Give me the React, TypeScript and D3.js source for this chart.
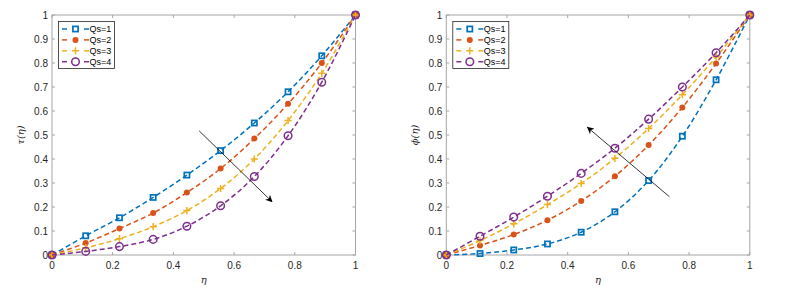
import * as d3 from "d3";

const eta = [0, 1 / 9, 2 / 9, 3 / 9, 4 / 9, 5 / 9, 6 / 9, 7 / 9, 8 / 9, 1];
const seriesNames = ["Qs=1", "Qs=2", "Qs=3", "Qs=4"];
const colors = ["#0072BD", "#D95319", "#EDB120", "#7E2F8E"];
const markers = ["square", "dot", "plus", "circle"];

const tauValues = [
  [0, 0.08, 0.155, 0.24, 0.333, 0.435, 0.55, 0.68, 0.83, 1],
  [0, 0.05, 0.11, 0.175, 0.26, 0.36, 0.485, 0.63, 0.8, 1],
  [0, 0.03, 0.068, 0.118, 0.185, 0.277, 0.4, 0.56, 0.757, 1],
  [0, 0.015, 0.035, 0.065, 0.12, 0.205, 0.327, 0.497, 0.72, 1],
];
const phiValues = [
  [0, 0.006, 0.021, 0.046, 0.095, 0.18, 0.31, 0.495, 0.73, 1],
  [0, 0.04, 0.085, 0.145, 0.225, 0.328, 0.458, 0.615, 0.798, 1],
  [0, 0.06, 0.13, 0.21, 0.298, 0.403, 0.527, 0.668, 0.825, 1],
  [0, 0.078, 0.158, 0.245, 0.34, 0.445, 0.566, 0.7, 0.843, 1],
];
// arrow annotations [x0, y0, x1, y1], head at the second point
const tauArrow = [0.485, 0.517, 0.725, 0.222];
const phiArrow = [0.735, 0.243, 0.465, 0.532];

const ticks = d3.range(0, 1.0001, 0.1);
const xTicks = [0, 0.2, 0.4, 0.6, 0.8, 1];
const fmt = (v: number) => String(+v.toFixed(1));

const Marker = ({ kind, x, y, color }: any) => {
  if (kind === "square")
    return <rect x={x - 2.6} y={y - 2.6} width={5.2} height={5.2} fill="none" stroke={color} strokeWidth={1.7} />;
  if (kind === "dot") return <circle cx={x} cy={y} r={3} fill={color} />;
  if (kind === "plus")
    return (
      <path d={`M${x - 3.6},${y}H${x + 3.6}M${x},${y - 3.6}V${y + 3.6}`} stroke={color} strokeWidth={1.5} />
    );
  return <circle cx={x} cy={y} r={3.8} fill="none" stroke={color} strokeWidth={1.5} />;
};

const Panel = ({ left, data, label, arrow, id }: any) => {
  const x = d3.scaleLinear().domain([0, 1]).range([left, left + 303.5]);
  const y = d3.scaleLinear().domain([0, 1]).range([255, 15]);
  const line = d3
    .line<number>()
    .x((_, i) => x(eta[i]))
    .y((d) => y(d))
    .curve(d3.curveCatmullRom);
  const lg = { x: left + 6.5, y: 21.5 };
  return (
    <g>
      <defs>
        <marker id={id} viewBox="0 0 10 10" refX={9} refY={5} markerWidth={9} markerHeight={9} orient="auto">
          <path d="M0,0L10,5L0,10L3,5Z" fill="#000" />
        </marker>
      </defs>
      <rect x={x(0)} y={y(1)} width={x(1) - x(0)} height={y(0) - y(1)} fill="#fff" stroke="#a6a6a6" strokeWidth={1} />
      {ticks.map((t) => (
        <g key={"y" + t}>
          <line x1={x(0)} x2={x(0) + 3} y1={y(t)} y2={y(t)} stroke="#a6a6a6" />
          <line x1={x(1)} x2={x(1) - 3} y1={y(t)} y2={y(t)} stroke="#a6a6a6" />
          <text x={x(0) - 4} y={y(t)} dy="0.35em" textAnchor="end" fontSize={10} fill="#262626">
            {fmt(t)}
          </text>
        </g>
      ))}
      {xTicks.map((t) => (
        <g key={"x" + t}>
          <line x1={x(t)} x2={x(t)} y1={y(0)} y2={y(0) - 3} stroke="#a6a6a6" />
          <line x1={x(t)} x2={x(t)} y1={y(1)} y2={y(1) + 3} stroke="#a6a6a6" />
          <text x={x(t)} y={y(0) + 14} textAnchor="middle" fontSize={10} fill="#262626">
            {fmt(t)}
          </text>
        </g>
      ))}
      <text x={(x(0) + x(1)) / 2} y={283} textAnchor="middle" fontSize={10} fontStyle="italic" fontFamily="DejaVu Serif" fill="#262626">
        η
      </text>
      <text
        transform={`translate(${left - 28},${y(0.5)}) rotate(-90)`}
        textAnchor="middle"
        fontSize={10}
        fontStyle="italic"
        fontFamily="DejaVu Serif"
        fill="#262626"
      >
        {label}
      </text>
      {data.map((s: number[], k: number) => (
        <g key={k}>
          <path d={line(s) || ""} fill="none" stroke={colors[k]} strokeWidth={1.5} strokeDasharray="5,3" />
          {s.map((v, i) => (
            <Marker key={i} kind={markers[k]} x={x(eta[i])} y={y(v)} color={colors[k]} />
          ))}
        </g>
      ))}
      <line
        x1={x(arrow[0])}
        y1={y(arrow[1])}
        x2={x(arrow[2])}
        y2={y(arrow[3])}
        stroke="#000"
        strokeWidth={0.8}
        markerEnd={`url(#${id})`}
      />
      <rect x={lg.x} y={lg.y} width={56} height={47} fill="#fff" stroke="#262626" strokeWidth={0.8} />
      {seriesNames.map((n, k) => {
        const yy = lg.y + 7.5 + k * 10.9;
        return (
          <g key={n}>
            <line x1={lg.x + 3.5} x2={lg.x + 8.5} y1={yy} y2={yy} stroke={colors[k]} strokeWidth={1.5} />
            <line x1={lg.x + 25.5} x2={lg.x + 30.5} y1={yy} y2={yy} stroke={colors[k]} strokeWidth={1.5} />
            <Marker kind={markers[k]} x={lg.x + 17} y={yy} color={colors[k]} />
            <text x={lg.x + 31} y={yy} dy="0.35em" fontSize={9} fill="#000">
              {n}
            </text>
          </g>
        );
      })}
    </g>
  );
};

export default function App() {
  return (
    <svg
      width={790}
      height={289}
      style={{ position: "absolute", left: 0, top: 0, background: "#fff", fontFamily: "Liberation Sans, Arial, sans-serif" }}
    >
      <rect width={790} height={289} fill="#fff" />
      <Panel left={52} data={tauValues} label="τ(η)" arrow={tauArrow} id="arrA" />
      <Panel left={446.3} data={phiValues} label="ϕ(η)" arrow={phiArrow} id="arrB" />
    </svg>
  );
}
